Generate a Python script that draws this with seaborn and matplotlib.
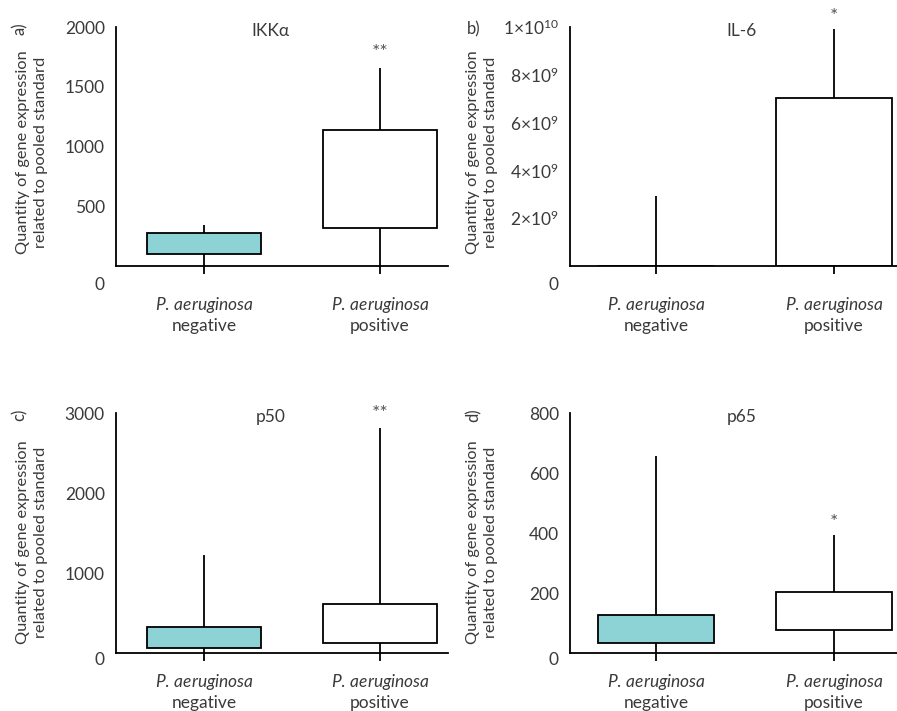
import pandas as pd
import seaborn as sns
import matplotlib.pyplot as plt

sns.set_theme(style="white")
plt.rcParams["font.family"] = ["Lato", "DejaVu Sans"]
plt.rcParams["mathtext.fontset"] = "custom"
plt.rcParams["mathtext.rm"] = "Lato"
plt.rcParams["mathtext.it"] = "Lato:italic"

groups = ["negative", "positive"]
tick_labels = ["$\\it{P.\\,aeruginosa}$\nnegative", "$\\it{P.\\,aeruginosa}$\npositive"]

# five-number summaries: [min, Q1, median (not drawn), Q3, max]
ikka_neg = [0, 103, 103, 279, 346]
ikka_pos = [0, 321, 321, 1142, 1654]
il6_neg = [0, 0, 0, 0, 2.91e9]
il6_pos = [0, 0, 0, 7.03e9, 9.93e9]
p50_neg = [0, 63, 63, 327, 1225]
p50_pos = [0, 126, 126, 617, 2811]
p65_neg = [0, 34, 34, 128, 657]
p65_pos = [0, 76, 76, 205, 392]

titles = ["IKK\u03b1", "IL-6", "p50", "p65"]
panel_tags = ["a)", "b)", "c)", "d)"]
stars = ["**", "*", "**", "*"]
star_y = [1790, 1.045e10, 2990, 435]
y_max = [2000, 1e10, 3000, 800]
y_ticks = [[500, 1000, 1500, 2000],
           [2e9, 4e9, 6e9, 8e9, 1e10],
           [1000, 2000, 3000],
           [200, 400, 600, 800]]
y_ticklabels = [["500", "1000", "1500", "2000"],
                ["$2{\\times}10^9$", "$4{\\times}10^9$", "$6{\\times}10^9$",
                 "$8{\\times}10^9$", "$1{\\times}10^{10}$"],
                ["1000", "2000", "3000"],
                ["200", "400", "600", "800"]]

teal = "#8dd3d6"
text_col = "#3a3a3a"

fig = plt.figure(figsize=(8.97, 7.11), dpi=100)
W, H = 897, 711

# axes boxes in pixels: left, top, right, bottom
boxes = [(116, 27, 448, 266), (570, 27, 897, 266),
         (116, 413, 448, 653), (570, 413, 897, 653)]
xlims = [(-0.5, 1.386), (-0.483, 1.354), (-0.5, 1.386), (-0.483, 1.354)]
zero_drop = [14, 14, 5, 5]
xpad = [15, 15, 8, 8]
title_x = [0.38, 0.48, 0.38, 0.48]
ylab_y = [152, 152, 542, 542]

data = [(ikka_neg, ikka_pos), (il6_neg, il6_pos), (p50_neg, p50_pos), (p65_neg, p65_pos)]

for i, (neg, pos) in enumerate(data):
    l, t, r, b = boxes[i]
    ax = fig.add_axes([l / W, 1 - b / H, (r - l) / W, (b - t) / H])
    df = pd.DataFrame({"group": [groups[0]] * len(neg) + [groups[1]] * len(pos),
                       "value": neg + pos})
    sns.boxplot(data=df, x="group", y="value", hue="group",
                palette={groups[0]: teal, groups[1]: "white"}, saturation=1,
                width=0.65, whis=(0, 100), showcaps=False, showfliers=False,
                linecolor="black", linewidth=1.3, legend=False,
                medianprops={"visible": False}, ax=ax)
    ax.set_xlim(*xlims[i])
    ax.set_ylim(0, y_max[i])
    ax.set_xticks([0, 1], labels=tick_labels, fontsize=12.5, color=text_col)
    ax.set_yticks(y_ticks[i], labels=y_ticklabels[i], fontsize=12.5, color=text_col)
    ax.tick_params(axis="x", length=6, width=1.3, color="black", direction="out",
                   pad=xpad[i], bottom=True)
    ax.tick_params(axis="y", length=0, pad=8)
    ax.set_xlabel("")
    ax.set_ylabel("")
    sns.despine(ax=ax)
    for s in ["left", "bottom"]:
        ax.spines[s].set_color("black")
        ax.spines[s].set_linewidth(1.3)
    ax.set_facecolor("white")
    # the zero label sits lower than the axis line in the original
    ax.annotate("0", xy=(0, 0), xycoords=("axes fraction", "data"),
                xytext=(-8, -zero_drop[i]), textcoords="offset points",
                ha="right", va="center", fontsize=12.5, color=text_col)
    ax.text(title_x[i], y_max[i] * 0.985, titles[i], ha="center", va="center",
            fontsize=12.5, color=text_col)
    ax.text(1, star_y[i], stars[i], ha="center", va="center", fontsize=14,
            color="#555555", clip_on=False)

# y-axis labels and panel tags
ylab = "Quantity of gene expression\nrelated to pooled standard"
for (l, t, r, b), yc, tag, rot in zip(boxes, ylab_y, panel_tags, [90, 0, 90, 90]):
    xc = 32 if l < 300 else 482
    fig.text(xc / W, 1 - yc / H, ylab, rotation=90, ha="center",
             va="center", fontsize=11.8, color=text_col, linespacing=1.4)
    tx = 20 if l < 300 else 474
    fig.text(tx / W, 1 - (t + 2) / H, tag, rotation=rot, ha="center", va="center",
             fontsize=12, color=text_col)

fig.savefig("out.png", dpi=100, facecolor="white")
